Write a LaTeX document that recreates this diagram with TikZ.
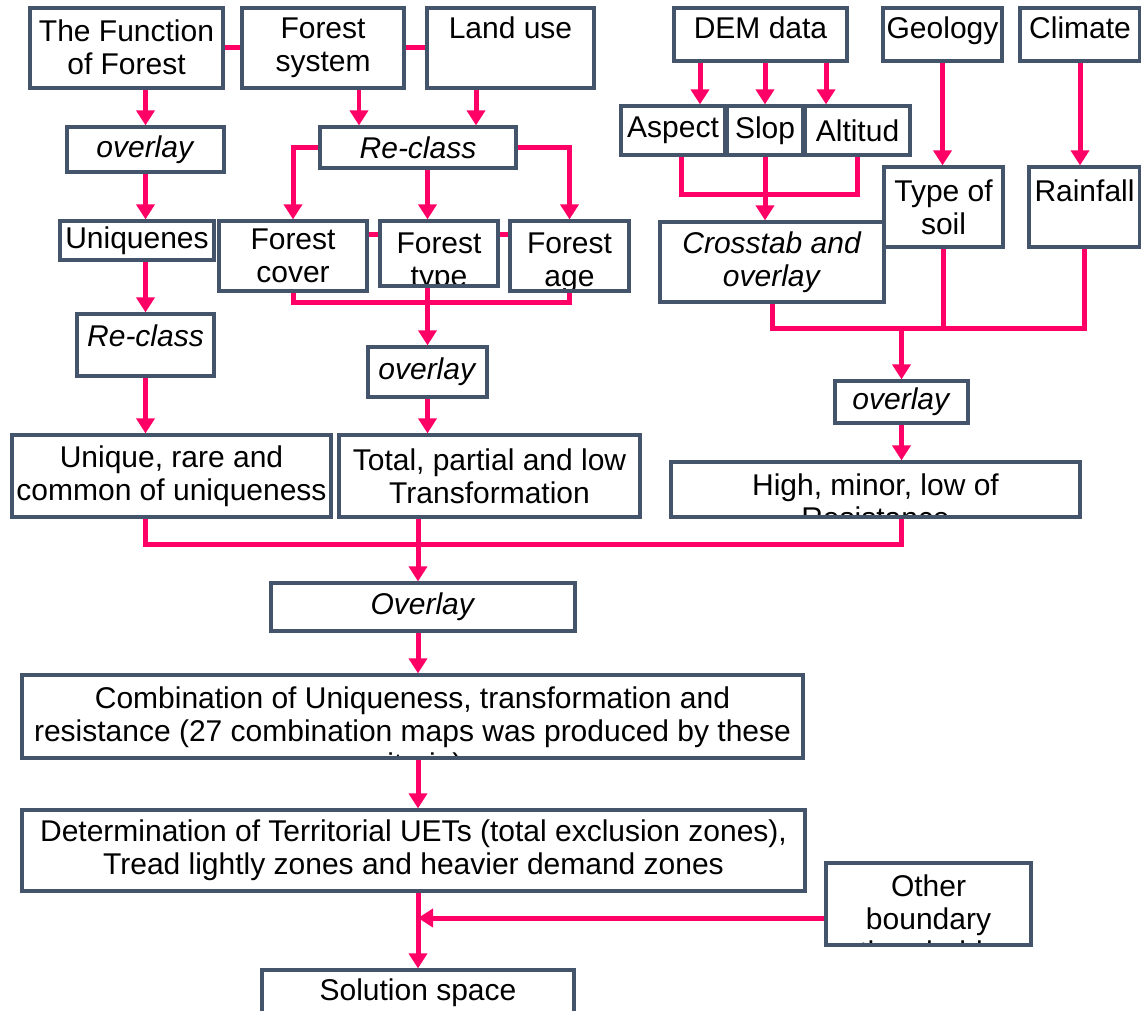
\documentclass[tikz,border=0pt]{standalone}
\usepackage{fontspec}
\setmainfont{Liberation Sans}
\usetikzlibrary{arrows.meta}
\definecolor{slate}{HTML}{44546A}
\definecolor{pinkline}{HTML}{FF0066}
\tikzstyle{box} = [rectangle, draw=slate, line width=0.065cm, fill=white, align=center, inner sep=1pt]
\tikzstyle{arrow} = [draw=pinkline, line width=0.1cm, -{Triangle[width=0.36cm,length=0.3cm]}]
\tikzstyle{link} = [draw=pinkline, line width=0.1cm]
\tikzstyle{cliplabel} = [anchor=north, align=center, inner sep=0pt, minimum width=0pt, minimum height=0pt, draw=none, fill=none]
\tikzset{boxsize/.style 2 args={minimum width=#1*0.02cm, minimum height=#2*0.02cm}}
\newcommand{\cliptop}[1]{\node[cliplabel] at ([yshift=-0.21cm]path picture bounding box.north) {#1};}

\begin{document}
\begin{tikzpicture}[x=0.02cm, y=-0.02cm, font=\fontsize{17.07pt}{18.78pt}\selectfont]
        \fill[white] (0,0) rectangle (1141,1010);
        \useasboundingbox (0,0) rectangle (1141,1010);

        \node (fun) [box, boxsize={193}{80}, path picture={\cliptop{The Function\\of Forest}}] at (126.5,48) {};
        \node (sys) [box, boxsize={162}{80}] at (323,48) {Forest\\system};
        \node (land) [box, boxsize={167}{80}] at (510.5,48) {Land use\\[0.16cm]~};
        \node (ovl1) [box, boxsize={157}{45}] at (145.5,149.5) {\textit{overlay}};
        \node (uniq) [box, boxsize={154}{39}] at (137,240.5) {Uniquenes};
        \node (rcl1) [box, boxsize={137}{62}] at (145.5,345) {\textit{Re-class}\\[-0.3cm]~};
        \node (ures) [box, boxsize={319}{82}] at (171.5,476) {Unique, rare and\\common of uniqueness};
        \node (rcl2) [box, boxsize={196}{41}] at (418,147.5) {\textit{Re-class}};
        \node (fcov) [box, boxsize={148}{70}] at (293,256) {Forest\\cover};
        \node (ftyp) [box, boxsize={118}{65}, path picture={\cliptop{Forest\\type}}] at (439,253.5) {};
        \node (fage) [box, boxsize={119}{70}, path picture={\cliptop{Forest\\age}}] at (569.5,256) {};
        \node (ovl2) [box, boxsize={119}{50}] at (427.5,372) {\textit{overlay}};
        \node (tot) [box, boxsize={301}{82}] at (489.5,476) {Total, partial and low\\Transformation};

        \node (dem) [box, boxsize={173}{53}] at (760.5,34.5) {DEM data\\[-0.4cm]~};
        \node (geo) [box, boxsize={119}{53}] at (942.5,34.5) {Geology\\[-0.4cm]~};
        \node (clim) [box, boxsize={120}{53}] at (1080,34.5) {Climate\\[-0.4cm]~};
        \node (asp) [box, boxsize={104}{49}] at (673,130.5) {Aspect};
        \node (slp) [box, boxsize={76}{49}] at (765,130.5) {Slop};
        \node (alt) [box, boxsize={105}{49}] at (857.5,130.5) {Altitud};
        \node (xtab) [box, boxsize={224}{80}] at (772,262) {\textit{Crosstab and}\\\textit{overlay}};
        \node (soil) [box, boxsize={119}{80}] at (943.5,207) {Type of\\soil};
        \node (rain) [box, boxsize={111}{80}] at (1084.5,207) {Rainfall\\~};
        \node (ovl3) [box, boxsize={133}{42}] at (901.5,402) {\textit{overlay}};
        \node (high) [box, boxsize={409}{55}, path picture={\cliptop{High, minor, low of\\Resistance}}] at (875.5,489.5) {};

        \node (ovl4) [box, boxsize={304}{48}] at (423,607) {\textit{Overlay}};
        \node (comb) [box, boxsize={781}{83}, path picture={\cliptop{Combination of Uniqueness, transformation and\\resistance (27 combination maps was produced by these\\criteria)}}] at (412.5,716.5) {};
        \node (det) [box, boxsize={783}{81}] at (413.5,850.5) {Determination of Territorial UETs (total exclusion zones),\\Tread lightly zones and heavier demand zones};
        \node (oth) [box, boxsize={205}{82}, path picture={\cliptop{Other\\boundary\\thresholds}}] at (928.5,904) {};
        \node (sol) [box, boxsize={312}{46}] at (418,993) {Solution space};

        \draw [link] (fun.east) -- (sys.west);
        \draw [link] (sys.east) -- (land.west);
        \draw [arrow] (ovl1.north |- fun.south) -- (ovl1.north);
        \draw [arrow] (ovl1.south) -- (ovl1.south |- uniq.north);
        \draw [arrow] (rcl1.north |- uniq.south) -- (rcl1.north);
        \draw [arrow] (rcl1.south) -- (rcl1.south |- ures.north);
        \draw [arrow] ([xshift=0.72cm]sys.south) -- ([xshift=0.72cm]sys.south |- rcl2.north);
        \draw [arrow] ([xshift=-0.69cm]land.south) -- ([xshift=-0.69cm]land.south |- rcl2.north);
        \draw [arrow] (rcl2.west) -| (fcov.north);
        \draw [arrow] (ovl2.north |- rcl2.south) -- (ovl2.north |- ftyp.north);
        \draw [arrow] (rcl2.east) -| (fage.north);
        \draw [link] ([yshift=0.44cm]fcov.east) -- ([yshift=0.44cm]fcov.east -| ftyp.west);
        \draw [link] ([yshift=0.44cm]fcov.east -| ftyp.east) -- ([yshift=0.44cm]fcov.east -| fage.west);
        \draw [link] (fcov.south) -- ++(0,10) -| (fage.south);
        \draw [arrow] (ovl2.north |- ftyp.south) -- (ovl2.north);
        \draw [arrow] (ovl2.south) -- (ovl2.south |- tot.north);

        \draw [arrow] ([xshift=0.54cm]asp.north |- dem.south) -- ([xshift=0.54cm]asp.north);
        \draw [arrow] (slp.north |- dem.south) -- (slp.north);
        \draw [arrow] ([xshift=-0.63cm]alt.north |- dem.south) -- ([xshift=-0.63cm]alt.north);
        \draw [link] ([xshift=0.16cm]asp.south) -- ++(0,38) -| (alt.south);
        \draw [arrow] (slp.south) -- (slp.south |- xtab.north);
        \draw [arrow] (geo.south) -- (geo.south |- soil.north);
        \draw [arrow] (clim.south) -- (clim.south |- rain.north);
        \coordinate (mergeR) at ([yshift=-0.5cm]xtab.south);
        \draw [link] (xtab.south) -- (mergeR) -| (rain.south);
        \draw [link] (soil.south) -- (soil.south |- mergeR);
        \draw [arrow] (ovl3.north |- mergeR) -- (ovl3.north);
        \draw [arrow] (ovl3.south) -- (ovl3.south |- high.north);

        \coordinate (mergeB) at ([yshift=-0.52cm]ures.south);
        \draw [link] (rcl1.south |- ures.south) -- (rcl1.south |- mergeB) -| (ovl3.south |- high.south);
        \draw [arrow] (sol.north |- tot.south) -- (sol.north |- ovl4.north);
        \draw [arrow] (sol.north |- ovl4.south) -- (sol.north |- comb.north);
        \draw [arrow] (sol.north |- comb.south) -- (sol.north |- det.north);
        \draw [arrow] (sol.north |- det.south) -- (sol.north);
        \draw [arrow] ([yshift=-0.28cm]oth.west) -- ([yshift=-0.28cm]oth.west -| sol.north);
\end{tikzpicture}
\end{document}
